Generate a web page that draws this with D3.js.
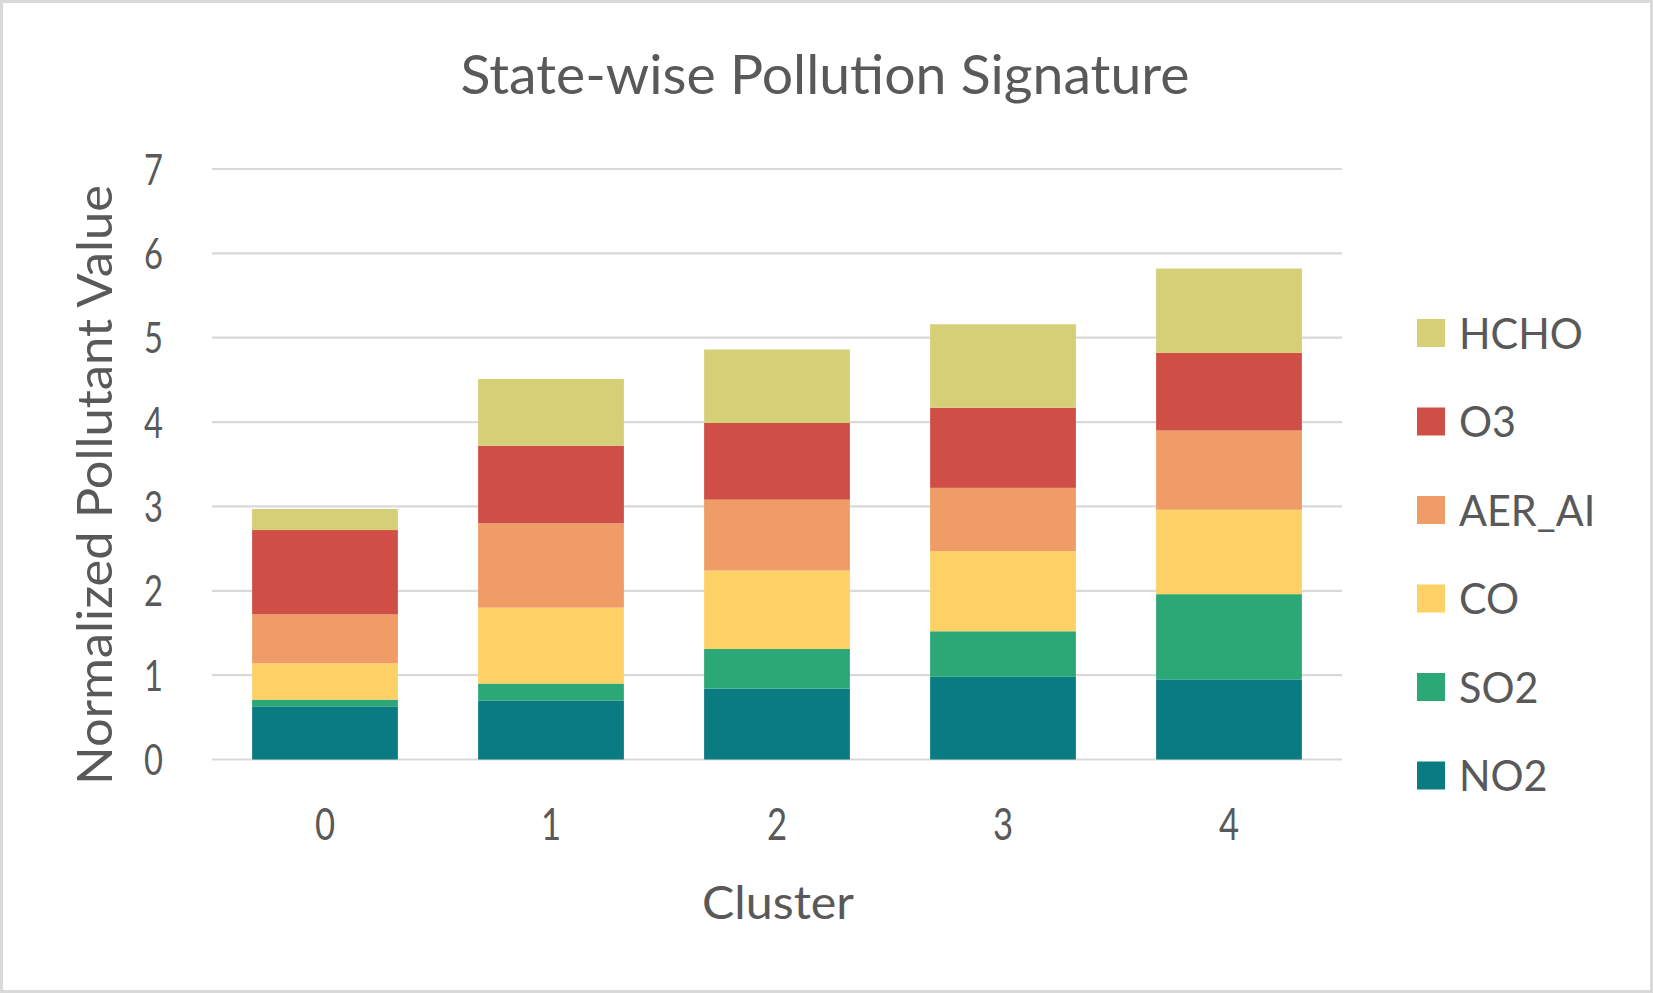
<!DOCTYPE html>
<html>
<head>
  <meta charset="utf-8">
  <script src="https://d3js.org/d3.v7.min.js"></script>
<style>
  html, body {
    margin: 0;
    padding: 0;
    background: #fff;
  }
  text {
    font-family: Lato, "Open Sans", sans-serif;
    fill: #595959;
  }
</style>
</head>
<body>
<script type="text/javascript">
  "use strict";

  // data
  var clusters = ["0", "1", "2", "3", "4"];
  var pollutants = ["NO2", "SO2", "CO", "AER_AI", "O3", "HCHO"];
  var no2   = [0.63, 0.70, 0.84, 0.98, 0.95];
  var so2   = [0.08, 0.20, 0.47, 0.54, 1.01];
  var co    = [0.43, 0.90, 0.93, 0.95, 1.00];
  var aerAi = [0.58, 1.00, 0.84, 0.75, 0.94];
  var o3    = [1.00, 0.92, 0.91, 0.95, 0.92];
  var hcho  = [0.25, 0.79, 0.87, 0.99, 1.00];
  var yTicks = [0, 1, 2, 3, 4, 5, 6, 7];

  var colors = {
    NO2: "#0b7b82",
    SO2: "#2ca877",
    CO: "#fed166",
    AER_AI: "#f09c66",
    O3: "#cf4f46",
    HCHO: "#d5cf77"
  };

  var width = 1653,
      height = 993;

  var rows = clusters.map(function (c, i) {
    return { cluster: c, NO2: no2[i], SO2: so2[i], CO: co[i],
             AER_AI: aerAi[i], O3: o3[i], HCHO: hcho[i] };
  });

  var svg = d3.select("body")
    .append("svg")
      .attr("width", width)
      .attr("height", height);

  // chart area border
  svg.append("rect")
    .attr("x", 1.5).attr("y", 1.5)
    .attr("width", width - 3).attr("height", height - 3)
    .attr("fill", "#fff")
    .attr("stroke", "#d9d9d9")
    .attr("stroke-width", 3);

  var x = d3.scaleBand()
    .domain(clusters)
    .range([212, 1342])
    .paddingInner(0.355)
    .paddingOuter(0.1775);

  var y = d3.scaleLinear()
    .domain([0, 7])
    .range([759.5, 169]);

  // Calibri is not here, so Lato is squeezed sideways to the measured width
  // capH = cap height in px, w = wanted width (or sx = fixed squeeze)
  function fitText(sel, capH, opts) {
    var size = capH / 0.72;
    sel.style("font-size", size + "px");
    sel.each(function () {
      var t = d3.select(this);
      var len = this.getComputedTextLength();
      var sx = opts.w ? opts.w / len : opts.sx;
      var tr = "translate(" + opts.x + "," + opts.y + ")";
      if (opts.rotate) tr += " rotate(" + opts.rotate + ")";
      tr += " scale(" + sx + ",1)";
      t.attr("transform", tr);
    });
  }

  // gridlines
  svg.append("g")
    .selectAll("line")
    .data(yTicks)
    .enter()
    .append("line")
      .attr("x1", 212)
      .attr("x2", 1342)
      .attr("y1", function (d) { return y(d); })
      .attr("y2", function (d) { return y(d); })
      .attr("stroke", "#d9d9d9")
      .attr("stroke-width", 2.2);

  // stacked bars
  var series = d3.stack().keys(pollutants)(rows);

  svg.append("g")
    .selectAll("g")
    .data(series)
    .enter()
    .append("g")
      .attr("fill", function (d) { return colors[d.key]; })
    .selectAll("rect")
    .data(function (d) { return d; })
    .enter()
    .append("rect")
      .attr("x", function (d) { return x(d.data.cluster); })
      .attr("width", x.bandwidth())
      .attr("y", function (d) { return y(d[1]); })
      .attr("height", function (d) { return y(d[0]) - y(d[1]); });

  // y tick labels
  svg.append("g")
    .selectAll("text")
    .data(yTicks)
    .enter()
    .append("text")
      .attr("text-anchor", "end")
      .attr("y", 15.5)
      .text(function (d) { return d; })
      .each(function (d) {
        fitText(d3.select(this), 31, { x: 163, y: y(d), sx: 0.76 });
      });

  // x tick labels
  svg.append("g")
    .selectAll("text")
    .data(clusters)
    .enter()
    .append("text")
      .attr("text-anchor", "middle")
      .text(function (d) { return d; })
      .each(function (d) {
        fitText(d3.select(this), 32, { x: x(d) + x.bandwidth() / 2, y: 840, sx: 0.78 });
      });

  // title
  fitText(svg.append("text")
      .attr("text-anchor", "middle")
      .text("State-wise Pollution Signature"),
    39, { x: 825, y: 94, w: 729 });

  // x axis title
  fitText(svg.append("text")
      .attr("text-anchor", "middle")
      .text("Cluster"),
    34, { x: 778, y: 919, w: 152 });

  // y axis title
  fitText(svg.append("text")
      .attr("text-anchor", "middle")
      .text("Normalized Pollutant Value"),
    35, { x: 112, y: 485, w: 600, rotate: -90 });

  // legend, top to bottom is the reverse of the stack
  var legendKeys = pollutants.slice().reverse();
  var legend = svg.append("g")
    .selectAll("g")
    .data(legendKeys)
    .enter()
    .append("g")
      .attr("transform", function (d, i) { return "translate(1417," + (333 + i * 88.5) + ")"; });

  legend.append("rect")
    .attr("x", 0)
    .attr("y", -14)
    .attr("width", 28)
    .attr("height", 28)
    .attr("fill", function (d) { return colors[d]; });

  legend.append("text")
    .attr("y", 15.5)
    .text(function (d) { return d; })
    .each(function (d) {
      fitText(d3.select(this), 31, { x: 42, y: 0, sx: 0.96 });
    });
</script>
</body>
</html>
